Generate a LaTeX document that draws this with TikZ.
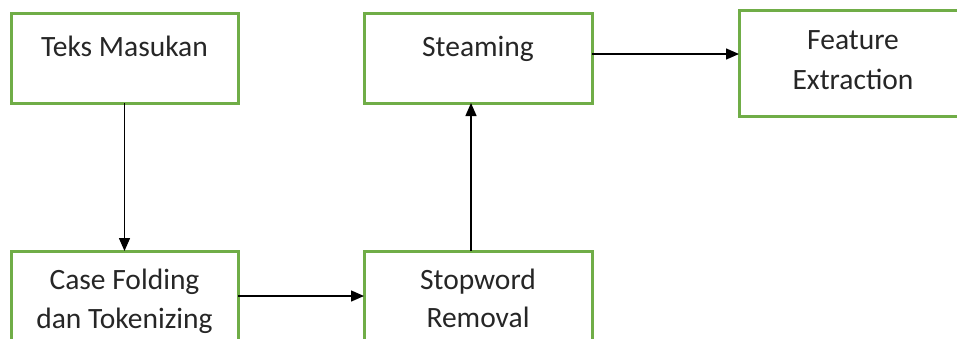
\documentclass[tikz,border=0pt]{standalone}
\usepackage{fontspec}
\setmainfont{Carlito}
\usetikzlibrary{arrows.meta}
\definecolor{boxgreen}{HTML}{70AD47}
\begin{document}
\begin{tikzpicture}[x=1pt,y=-1pt,
  stepbox/.style={draw=boxgreen, line width=3pt, inner sep=0pt, outer sep=0pt,
    minimum width=#1, minimum height=90pt},
  label/.style={anchor=base, inner sep=0pt, font=\fontsize{29.5}{40}\selectfont, text=black!85},
  flow/.style={line width=1.4pt, -{Triangle[length=13pt,width=11pt]}}]
\useasboundingbox (0,0) rectangle (957,338);
\clip (0,0) rectangle (957,338);
\fill[white] (0,0) rectangle (957,338);

% process boxes
\node[stepbox=227pt] (teks)  at (124.5,58) {};
\node[stepbox=228pt] (steam) at (478,58) {};
\node[stepbox=228pt, minimum height=106pt] (feat) at (853,63) {};
\node[stepbox=227pt] (case)  at (124.5,296) {};
\node[stepbox=228pt] (stop)  at (478,296) {};

% box texts
\node[label] (tteks) at (124.5,56) {Teks Masukan};
\node[label] (tsteam) at (478,56) {Steaming};
\node[label] (tfeat1) at (853,49) {Feature};
\node[label] (tfeat2) at (853,89) {Extraction};
\node[label] (tcase1) at (124.5,289) {Case Folding};
\node[label] (tcase2) at (124.5,328) {dan Tokenizing};
\node[label] (tstop1) at (478,289) {Stopword};
\node[label] (tstop2) at (478,327) {Removal};

% connectors
\draw[flow] (teks.south) -- (case.north);
\draw[flow] (case.east) -- (stop.west);
\draw[flow] ([xshift=-7pt]stop.north) -- ([xshift=-7pt]steam.south);
\draw[flow] (steam.east |- 0,54) -- (feat.west |- 0,54);
\end{tikzpicture}
\end{document}
